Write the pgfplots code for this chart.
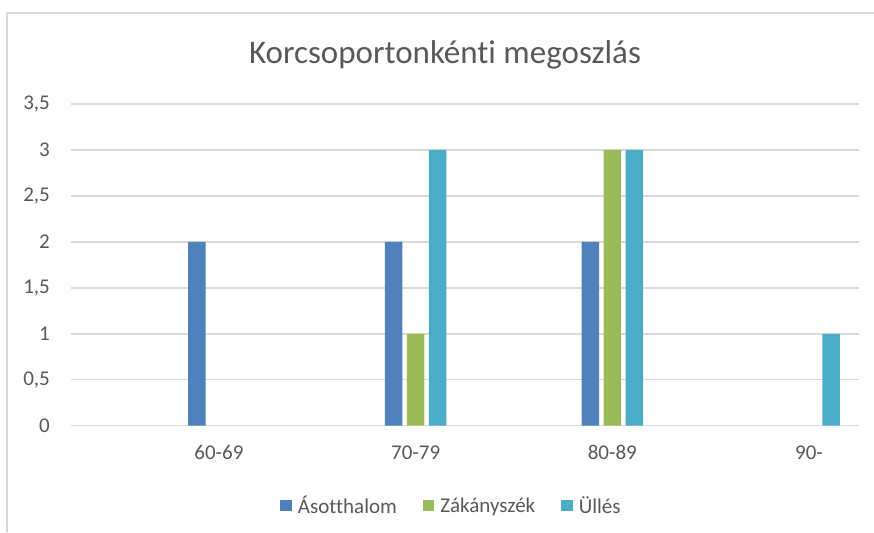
\documentclass[border=0pt]{standalone}
\usepackage{pgfplots}
\pgfplotsset{compat=1.18}
\usepackage{fontspec}
\setmainfont{Carlito}[Ligatures=NoCommon]
\definecolor{txt}{HTML}{595959}
\definecolor{grd}{HTML}{D9D9D9}
\definecolor{sA}{HTML}{4F81BD}
\definecolor{sB}{HTML}{9BBB59}
\definecolor{sC}{HTML}{4BACC6}
\begin{document}
\begin{tikzpicture}[x=1pt,y=1pt]
\useasboundingbox (0,0) rectangle (874,532);
\fill[white] (0,0) rectangle (874,532);
\draw[grd, line width=1.5pt] (7,0) -- (7,519) -- (874,519);
\node[anchor=base, text=txt, font=\fontsize{33}{38}\selectfont] at (445,468.7) {Korcsoportonkénti megoszlás};
\begin{axis}[
  at={(71pt,106.3pt)}, anchor=south west,
  scale only axis, width=788pt, height=321.7pt,
  xmin=-0.752, xmax=3.254, ymin=0, ymax=3.5,
  xtick={0,1,2,3}, xticklabels={60-69,70-79,80-89,90-},
  ytick={0,0.5,1,1.5,2,2.5,3,3.5},
  /pgf/number format/assume math mode=true,
  /pgf/number format/use comma,
  axis line style={draw=none},
  major tick length=0pt,
  ymajorgrids,
  grid style={grd, line width=1.5pt},
  tick label style={font=\fontsize{21}{25}\selectfont, text=txt},
  yticklabel style={anchor=east, inner sep=0pt, xshift=-21pt},
  xticklabel style={anchor=north, inner sep=0pt, yshift=-19.5pt},
  legend columns=3,
  legend style={at={(rel axis cs:0.4816,-0.248)}, anchor=center, draw=none, fill=none,
    font=\fontsize{21}{25}\selectfont, text=txt,
    nodes={inner sep=0pt},
    /tikz/every odd column/.append style={column sep=6pt},
    /tikz/every even column/.append style={column sep=26pt}},
  clip=false,
]
\addplot[ybar, bar width=17.5pt, bar shift=-22pt, fill=sA, draw=none,
  legend image code/.code={\fill[sA] (0pt,-5.75pt) rectangle (11.5pt,5.75pt);}]
  coordinates {(0,2) (1,2) (2,2)};
\addlegendentry{Ásotthalom}
\addplot[ybar, bar width=17.5pt, bar shift=0pt, fill=sB, draw=none,
  legend image code/.code={\fill[sB] (0pt,-5.75pt) rectangle (11.5pt,5.75pt);}]
  coordinates {(1,1) (2,3)};
\addlegendentry{Zákányszék}
\addplot[ybar, bar width=17.5pt, bar shift=22pt, fill=sC, draw=none,
  legend image code/.code={\fill[sC] (0pt,-5.75pt) rectangle (11.5pt,5.75pt);}]
  coordinates {(1,3) (2,3) (3,1)};
\addlegendentry{Üllés}
\end{axis}
\end{tikzpicture}
\end{document}
